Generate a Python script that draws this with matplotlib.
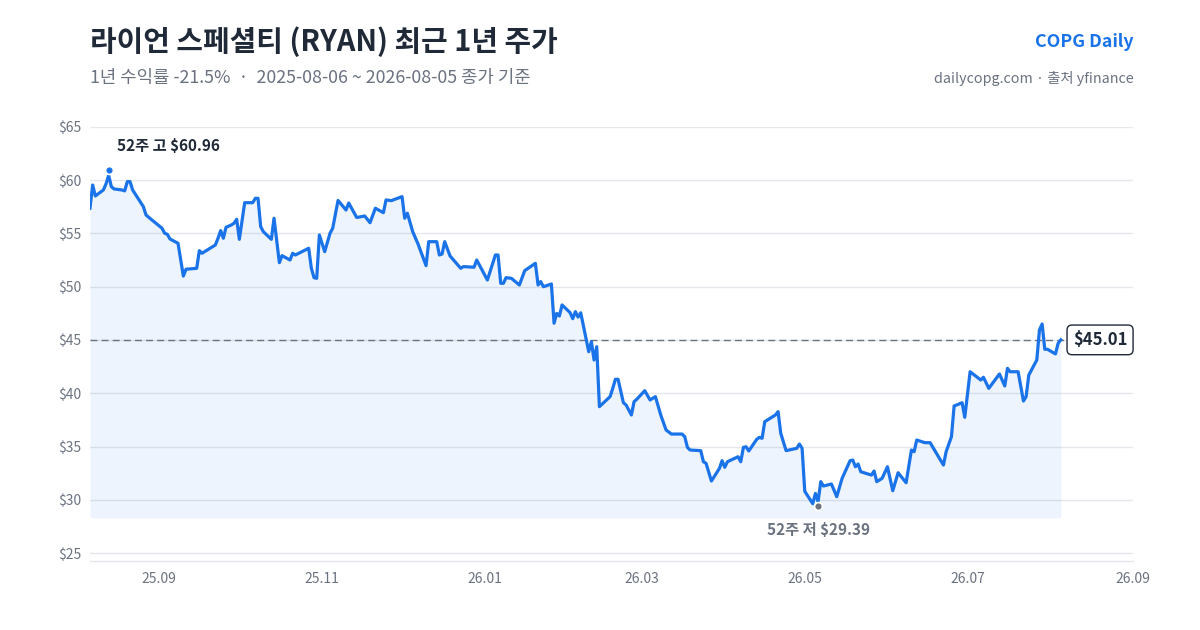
import matplotlib
matplotlib.use("Agg")
import matplotlib.pyplot as plt
import matplotlib.dates as mdates
import pandas as pd
import numpy as np

plt.rcParams['font.family'] = ['Noto Sans CJK KR', 'DejaVu Sans']

# ---------------- data ----------------
dates = [
    "2025-08-06", "2025-08-07", "2025-08-08", "2025-08-11", "2025-08-12", "2025-08-13", "2025-08-14", "2025-08-15",
    "2025-08-18", "2025-08-19", "2025-08-20", "2025-08-21", "2025-08-22", "2025-08-26", "2025-08-27", "2025-08-28",
    "2025-09-02", "2025-09-03", "2025-09-04", "2025-09-05", "2025-09-08", "2025-09-10", "2025-09-11", "2025-09-15",
    "2025-09-16", "2025-09-17", "2025-09-22", "2025-09-23", "2025-09-24", "2025-09-25", "2025-09-26", "2025-09-28",
    "2025-09-29", "2025-09-30", "2025-10-01", "2025-10-03", "2025-10-06", "2025-10-07", "2025-10-08", "2025-10-09",
    "2025-10-10", "2025-10-13", "2025-10-14", "2025-10-16", "2025-10-17", "2025-10-20", "2025-10-21", "2025-10-22",
    "2025-10-27", "2025-10-28", "2025-10-29", "2025-10-30", "2025-10-31", "2025-11-02", "2025-11-04", "2025-11-05",
    "2025-11-07", "2025-11-10", "2025-11-11", "2025-11-14", "2025-11-17", "2025-11-19", "2025-11-21", "2025-11-24",
    "2025-11-25", "2025-11-27", "2025-12-01", "2025-12-02", "2025-12-03", "2025-12-05", "2025-12-07", "2025-12-10",
    "2025-12-11", "2025-12-14", "2025-12-15", "2025-12-16", "2025-12-17", "2025-12-19", "2025-12-23", "2025-12-24",
    "2025-12-28", "2025-12-29", "2026-01-02", "2026-01-05", "2026-01-06", "2026-01-07", "2026-01-08", "2026-01-09",
    "2026-01-11", "2026-01-14", "2026-01-16", "2026-01-20", "2026-01-21", "2026-01-22", "2026-01-23", "2026-01-26",
    "2026-01-27", "2026-01-28", "2026-01-29", "2026-01-30", "2026-02-02", "2026-02-03", "2026-02-04", "2026-02-05",
    "2026-02-06", "2026-02-09", "2026-02-10", "2026-02-11", "2026-02-12", "2026-02-13", "2026-02-17", "2026-02-18",
    "2026-02-19", "2026-02-20", "2026-02-22", "2026-02-23", "2026-02-25", "2026-02-26", "2026-02-27", "2026-03-02",
    "2026-03-04", "2026-03-06", "2026-03-08", "2026-03-10", "2026-03-12", "2026-03-16", "2026-03-17", "2026-03-18",
    "2026-03-19", "2026-03-23", "2026-03-24", "2026-03-25", "2026-03-27", "2026-03-30", "2026-03-31", "2026-04-01",
    "2026-04-02", "2026-04-06", "2026-04-07", "2026-04-08", "2026-04-09", "2026-04-10", "2026-04-13", "2026-04-14",
    "2026-04-15", "2026-04-16", "2026-04-20", "2026-04-21", "2026-04-22", "2026-04-24", "2026-04-28", "2026-04-29",
    "2026-04-30", "2026-05-01", "2026-05-04", "2026-05-05", "2026-05-06", "2026-05-07", "2026-05-08", "2026-05-11",
    "2026-05-13", "2026-05-15", "2026-05-18", "2026-05-19", "2026-05-20", "2026-05-21", "2026-05-22", "2026-05-26",
    "2026-05-27", "2026-05-28", "2026-05-30", "2026-06-01", "2026-06-03", "2026-06-05", "2026-06-08", "2026-06-10",
    "2026-06-11", "2026-06-12", "2026-06-15", "2026-06-17", "2026-06-22", "2026-06-23", "2026-06-25", "2026-06-26",
    "2026-06-29", "2026-06-30", "2026-07-02", "2026-07-06", "2026-07-07", "2026-07-09", "2026-07-13", "2026-07-15",
    "2026-07-16", "2026-07-17", "2026-07-20", "2026-07-22", "2026-07-23", "2026-07-24", "2026-07-27", "2026-07-28",
    "2026-07-29", "2026-07-30", "2026-07-31", "2026-08-03", "2026-08-04", "2026-08-05",
]
closes = [
    57.37, 59.55, 58.52, 59.08, 59.65, 60.45, 59.40, 59.18,
    59.08, 59.00, 59.87, 59.87, 59.08, 57.52, 56.74, 56.52,
    55.49, 55.02, 54.92, 54.48, 54.08, 51.00, 51.64, 51.73,
    53.39, 53.14, 53.92, 54.55, 55.27, 54.55, 55.58, 55.80,
    55.96, 56.33, 54.45, 57.89, 57.89, 58.30, 58.30, 55.64,
    55.17, 54.45, 56.43, 52.26, 52.92, 52.51, 53.14, 52.98,
    53.61, 51.73, 50.85, 50.79, 54.86, 53.29, 55.02, 55.49,
    58.10, 57.20, 57.86, 56.50, 56.64, 56.01, 57.37, 56.95,
    58.15, 58.08, 58.46, 56.43, 56.90, 55.17, 54.01, 51.98,
    54.23, 54.23, 52.98, 53.07, 54.23, 52.89, 51.73, 51.89,
    51.83, 52.51, 50.63, 52.98, 52.98, 50.32, 50.32, 50.85,
    50.79, 50.16, 51.51, 52.20, 50.16, 50.48, 50.00, 50.26,
    46.57, 47.50, 47.25, 48.29, 47.57, 47.00, 47.66, 47.15,
    47.55, 43.90, 44.84, 43.12, 44.37, 38.74, 39.68, 40.46,
    41.31, 41.31, 39.11, 38.90, 37.96, 39.21, 39.43, 40.24,
    39.37, 39.68, 37.96, 36.55, 36.17, 36.17, 35.92, 34.92,
    34.67, 34.61, 33.57, 33.42, 31.76, 32.95, 33.67, 33.05,
    33.57, 34.04, 33.57, 34.92, 34.98, 34.58, 35.68, 35.86,
    35.77, 37.33, 37.96, 38.27, 36.24, 34.61, 34.83, 35.23,
    34.83, 30.80, 29.63, 30.60, 29.82, 31.70, 31.29, 31.48,
    30.29, 32.01, 33.67, 33.73, 33.10, 33.36, 32.63, 32.32,
    32.70, 31.70, 32.01, 33.10, 30.85, 32.54, 31.60, 34.67,
    34.51, 35.61, 35.36, 35.36, 33.26, 34.51, 35.92, 38.80,
    39.11, 37.74, 42.02, 41.24, 41.50, 40.46, 41.81, 40.68,
    42.34, 42.02, 42.02, 39.27, 39.68, 41.71, 43.12, 45.94,
    46.50, 44.13, 44.13, 43.69, 44.69, 45.01,
]
high_date = "2025-08-13"
high_value = 60.96
low_date = "2026-05-06"
low_value = 29.39
last_close = 45.01
x_ticks = ["2025-09-01", "2025-11-01", "2026-01-01", "2026-03-01", "2026-05-01", "2026-07-01", "2026-09-01"]
x_tick_labels = ["25.09", "25.11", "26.01", "26.03", "26.05", "26.07", "26.09"]
y_ticks = [25, 30, 35, 40, 45, 50, 55, 60, 65]

title = "라이언 스페셜티 (RYAN) 최근 1년 주가"
subtitle = "1년 수익률 -21.5%  ·  2025-08-06 ~ 2026-08-05 종가 기준"
brand = "COPG Daily"
source = "dailycopg.com · 출처 yfinance"

# ---------------- styling ----------------
BLUE = "#1a73e8"
DARK = "#1f2937"
GRAY = "#6b7280"
GRID = "#e5e7eb"

x = pd.to_datetime(dates)
y = np.array(closes)

fig = plt.figure(figsize=(12, 6.3), dpi=100)
fig.patch.set_facecolor("white")
ax = fig.add_axes([0.075, 0.1095, 0.869, 0.689])

ax.set_xlim(pd.Timestamp("2025-08-06"), pd.Timestamp("2026-09-01"))
ax.set_ylim(24.25, 65)

fill_base = 28.3
ax.fill_between(x, y, fill_base, color=BLUE, alpha=0.08, linewidth=0, zorder=1)
ax.plot(x, y, color=BLUE, linewidth=2.3, solid_joinstyle="round", zorder=3)

ax.axhline(last_close, color=GRAY, linewidth=1.0, linestyle=(0, (5, 3)), zorder=2)

# markers
ax.scatter([pd.Timestamp(high_date)], [high_value], s=32, color=BLUE, edgecolor="white", linewidth=1.2, zorder=5)
ax.annotate(f"52주 고 ${high_value:.2f}", xy=(pd.Timestamp(high_date), high_value),
            xytext=(6, 17), textcoords="offset points", ha="left", va="center",
            fontsize=11, fontweight="bold", color=DARK)
ax.scatter([pd.Timestamp(low_date)], [low_value], s=32, color=GRAY, edgecolor="white", linewidth=1.2, zorder=5)
ax.annotate(f"52주 저 ${low_value:.2f}", xy=(pd.Timestamp(low_date), low_value),
            xytext=(0, -17), textcoords="offset points", ha="center", va="center",
            fontsize=11, fontweight="bold", color=GRAY)

# last price box
ax.annotate(f"${last_close:.2f}", xy=(1.0, last_close), xycoords=("axes fraction", "data"),
            xytext=(-4, 0), textcoords="offset points", ha="right", va="center",
            fontsize=12, fontweight="bold", color=DARK,
            bbox=dict(boxstyle="round,pad=0.35,rounding_size=0.3", facecolor="white",
                      edgecolor=DARK, linewidth=1.0), zorder=6)

# axes styling
ax.set_xticks(pd.to_datetime(x_ticks))
ax.set_xticklabels(x_tick_labels)
ax.set_yticks(y_ticks)
ax.set_yticklabels([f"${v}" for v in y_ticks])
ax.tick_params(axis="both", length=0, colors=GRAY, labelsize=10)
ax.tick_params(axis="x", pad=8)
ax.tick_params(axis="y", pad=6)
ax.grid(axis="y", color=GRID, linewidth=1.0, zorder=0)
ax.grid(axis="x", visible=False)
for side in ["top", "right", "left"]:
    ax.spines[side].set_visible(False)
ax.spines["bottom"].set_color(GRID)
ax.spines["bottom"].set_linewidth(1.0)
ax.set_axisbelow(True)

# header texts
fig.text(0.075, 0.934, title, fontsize=20.8, fontweight="bold", color=DARK, ha="left", va="center")
fig.text(0.075, 0.876, subtitle, fontsize=12.8, color=GRAY, ha="left", va="center")
fig.text(0.945, 0.934, brand, fontsize=12.8, fontweight="bold", color=BLUE, ha="right", va="center")
fig.text(0.945, 0.876, source, fontsize=10.3, color=GRAY, ha="right", va="center")

fig.savefig("out.png", dpi=100, facecolor="white")
